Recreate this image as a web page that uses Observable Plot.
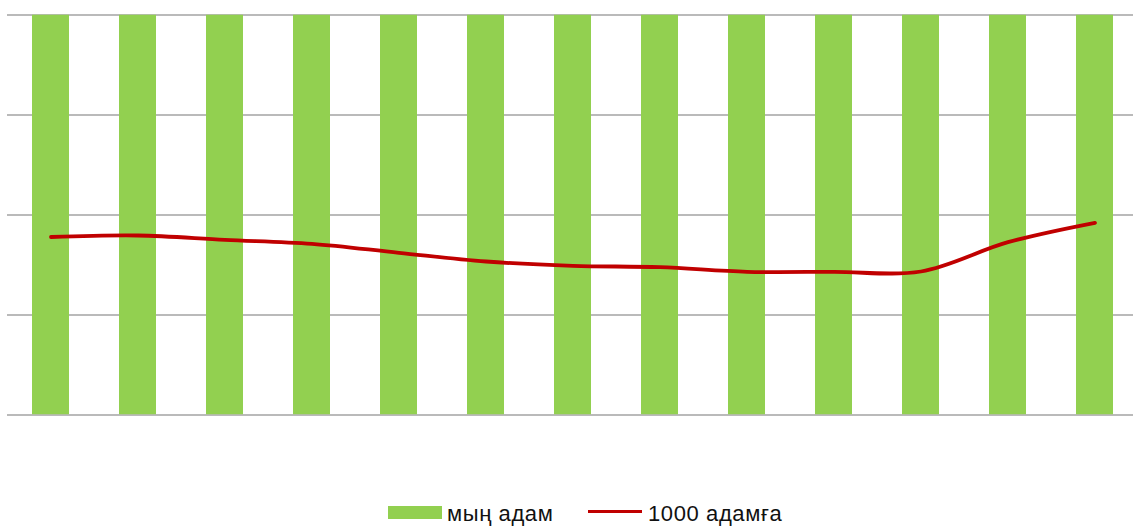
<!DOCTYPE html>
<html>
<head>
<meta charset="utf-8">
<script src="https://cdn.jsdelivr.net/npm/d3@7"></script>
<script src="https://cdn.jsdelivr.net/npm/@observablehq/plot@0.6"></script>
<style>
  html, body { margin: 0; padding: 0; background: #fff; width: 1133px; height: 526px; overflow: hidden; }
  #wrap { position: relative; width: 1133px; height: 526px; font-family: "Liberation Sans", Arial, sans-serif; }
  #chart { position: absolute; left: 0; top: 0; }
  .lg { position: absolute; font-size: 22px; line-height: 22px; letter-spacing: 0.6px; color: #111; white-space: nowrap; }
</style>
</head>
<body>
<div id="wrap">
  <div id="chart"></div>
</div>
<script>
// Categories (no labels are shown in the reference)
const years = ["2007","2008","2009","2010","2011","2012","2013","2014","2015","2016","2017","2018","2019"];
// Bars: "мың адам" — all reach the top of the visible axis
const thousandPeople = [4, 4, 4, 4, 4, 4, 4, 4, 4, 4, 4, 4, 4];
// Line: "1000 адамға" (in gridline units)
const per1000 = [1.78, 1.795, 1.752, 1.712, 1.622, 1.535, 1.492, 1.478, 1.432, 1.432, 1.435, 1.728, 1.922];
const gridTicks = [0, 1, 2, 3, 4];
const seriesNames = ["мың адам", "1000 адамға"];

const rows = years.map((y, i) => ({year: y, bar: thousandPeople[i], line: per1000[i]}));

const W = 1133, H = 500;
const step = 87.125;
const plot = Plot.plot({
  width: W,
  height: H,
  marginLeft: 7,
  marginRight: 0,
  marginTop: 14.5,
  marginBottom: H - 414.5,
  x: {type: "band", domain: years, range: [6.5, 6.5 + 13 * step], paddingInner: 0.575, paddingOuter: 0.2875, axis: null},
  y: {domain: [0, 4], axis: null},
  marks: [
    Plot.ruleY(gridTicks, {stroke: "#a3a3a3", strokeWidth: 1.6}),
    Plot.barY(rows, {x: "year", y: "bar", fill: "#92d050", clip: true}),
    Plot.lineY(rows, {x: "year", y: "line", stroke: "#c00000", strokeWidth: 3.8, curve: "catmull-rom", strokeLinecap: "round"})
  ]
});
document.getElementById("chart").appendChild(plot);

// Legend below the chart
const wrap = document.getElementById("wrap");
function el(tag, css, text) {
  const e = document.createElement(tag);
  Object.assign(e.style, css);
  if (text) e.textContent = text;
  wrap.appendChild(e);
  return e;
}
el("div", {position: "absolute", left: "388px", top: "506px", width: "54px", height: "13px", background: "#92d050"});
const t1 = el("div", {left: "447px", top: "503px"}, seriesNames[0]); t1.className = "lg";
el("div", {position: "absolute", left: "588px", top: "510px", width: "54px", height: "3px", background: "#c00000"});
const t2 = el("div", {left: "648px", top: "503px"}, seriesNames[1]); t2.className = "lg";
</script>
</body>
</html>
